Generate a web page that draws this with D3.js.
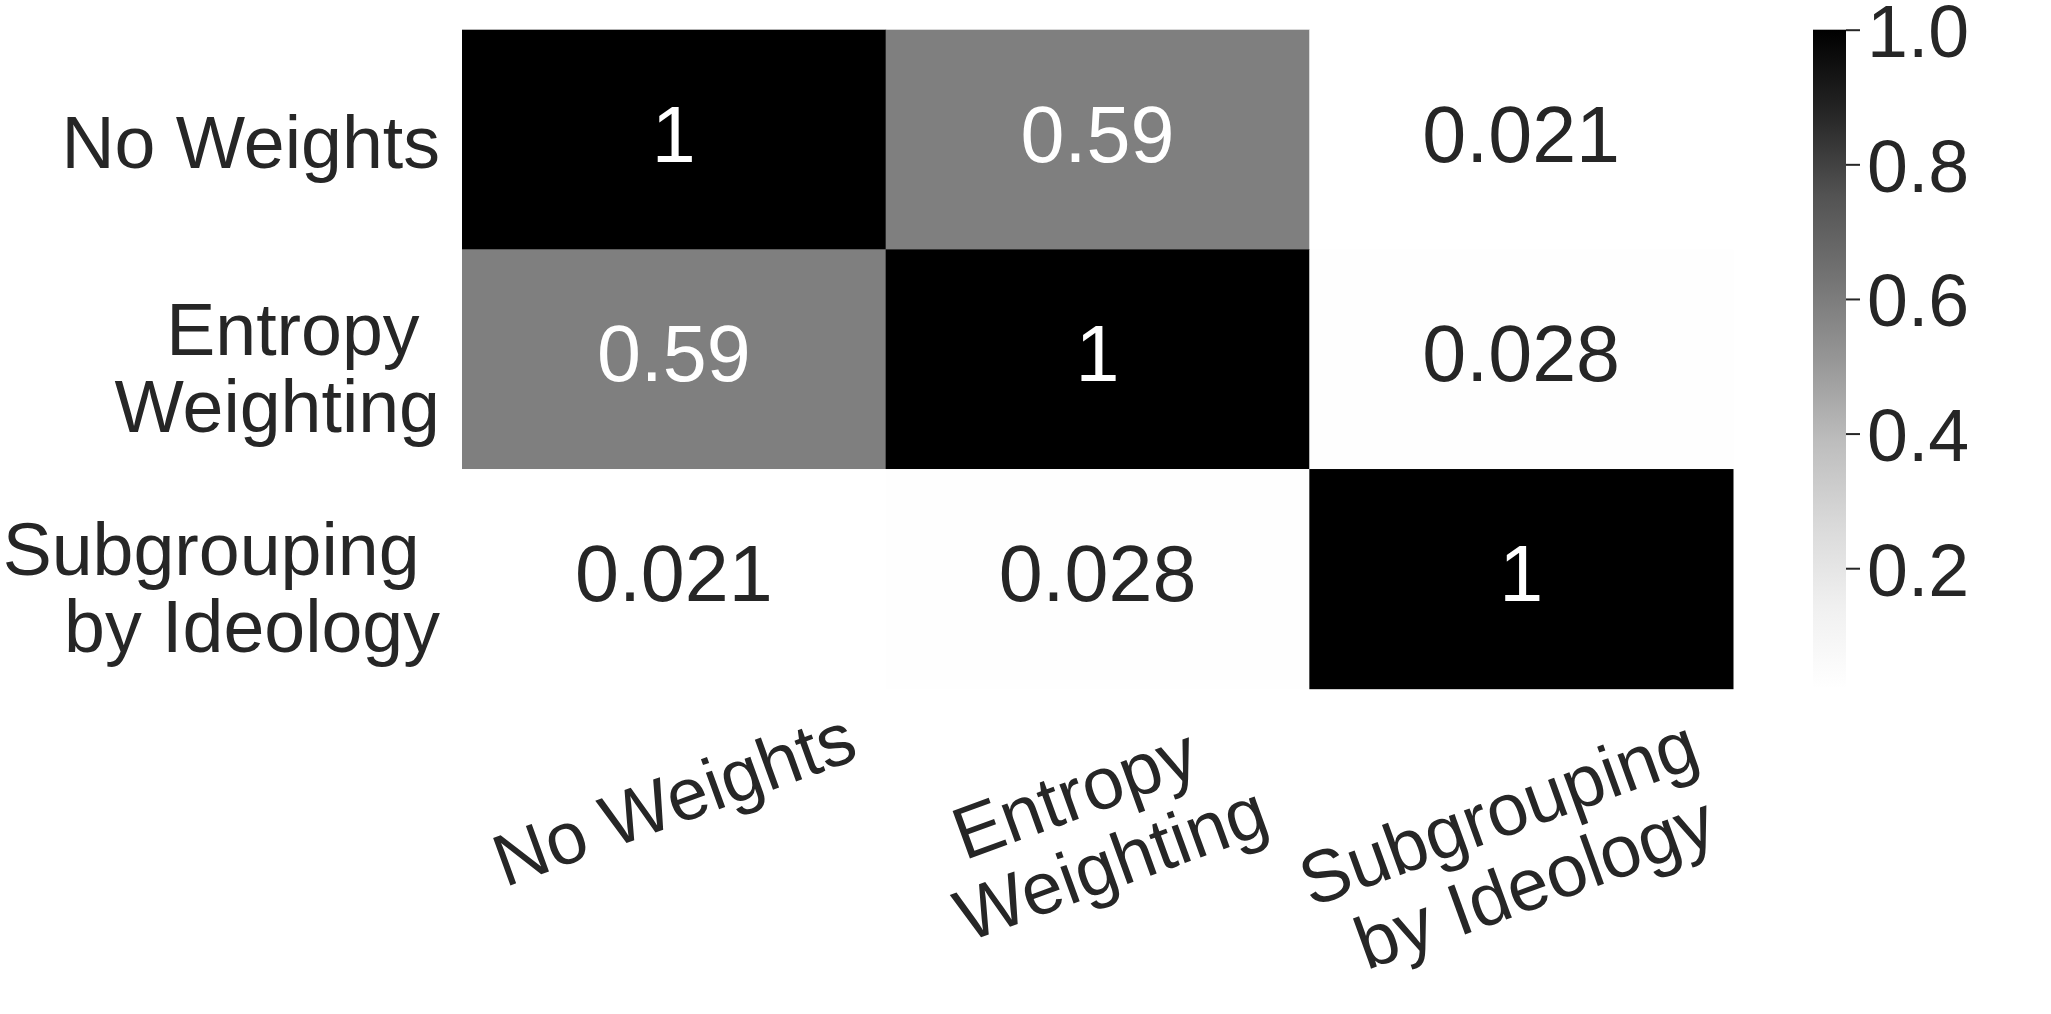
<!DOCTYPE html>
<html>
<head>
<meta charset="utf-8">
<script src="https://cdn.jsdelivr.net/npm/d3@7"></script>
<style>
	body { margin: 0; background: #ffffff; }
	svg text { font-family: "Liberation Sans", Arial, sans-serif; fill: #262626; white-space: pre; }
</style>
</head>
<body>
<svg id="vis" width="2051" height="1014"></svg>
<script>
// labels (trailing spaces are in the original labels)
const labels = ["No Weights", "Entropy \nWeighting", "Subgrouping \nby Ideology"];

// correlation matrix, row by row
const row0 = [1, 0.59, 0.021];
const row1 = [0.59, 1, 0.028];
const row2 = [0.021, 0.028, 1];
const matrix = [row0, row1, row2];

// colorbar ticks
const cbTicks = [0.2, 0.4, 0.6, 0.8, 1.0];

const svg = d3.select("svg#vis");

const plot = { left: 462, right: 1733, top: 29.7, bottom: 688.7 };
const cbar = { left: 1813, width: 33 };

const tickFont = 73.5;
const annotFont = 79;

// scales
const x = d3.scaleBand()
	.domain(d3.range(labels.length))
	.range([plot.left, plot.right]);

const y = d3.scaleBand()
	.domain(d3.range(labels.length))
	.range([plot.top, plot.bottom]);

const flat = matrix.flat();
const vmin = d3.min(flat);
const vmax = d3.max(flat);

// matplotlib "Greys" is a linear segmented map over these 9 colours
const greys = d3.schemeGreys[9];
const color = d3.scaleLinear()
	.domain(greys.map((c, i) => vmin + i / (greys.length - 1) * (vmax - vmin)))
	.range(greys);

const fmt = d3.format(".2~g");

// cells
const cells = [];
matrix.forEach((row, i) => row.forEach((v, j) => cells.push({ i: i, j: j, v: v })));

svg.append("g").selectAll("rect")
	.data(cells)
	.enter()
	.append("rect")
	.attr("x", d => x(d.j))
	.attr("y", d => y(d.i))
	.attr("width", x.bandwidth() + 0.5)
	.attr("height", y.bandwidth() + 0.5)
	.attr("fill", d => color(d.v));

// annotations
svg.append("g").selectAll("text")
	.data(cells)
	.enter()
	.append("text")
	.attr("x", d => x(d.j) + x.bandwidth() / 2)
	.attr("y", d => y(d.i) + y.bandwidth() / 2 + 22)
	.attr("text-anchor", "middle")
	.style("font-size", annotFont + "px")
	.style("fill", d => d3.hsl(color(d.v)).l < 0.6 ? "#ffffff" : "#262626")
	.text(d => fmt(d.v));

// y tick labels
const lineGap = 77;
const ylab = svg.append("g").selectAll("text")
	.data(labels)
	.enter()
	.append("text")
	.attr("xml:space", "preserve")
	.attr("text-anchor", "end")
	.style("font-size", tickFont + "px");

ylab.each(function(d, i) {
	const lines = d.split("\n");
	const base = y(i) + y.bandwidth() / 2 + 28.3 - (lines.length - 1) * 32.5;
	d3.select(this).selectAll("tspan")
		.data(lines)
		.enter()
		.append("tspan")
		.attr("x", 440)
		.attr("y", (l, k) => base + k * lineGap)
		.text(l => l);
});

// x tick labels, rotated 20 degrees, rotated box centred on the column
const angle = -20;
const rad = angle * Math.PI / 180;
const xlabTop = 695;

labels.forEach(function(d, j) {
	const g = svg.append("g");
	const t = g.append("text")
		.attr("xml:space", "preserve")
		.attr("text-anchor", "middle")
		.style("font-size", tickFont + "px");

	t.selectAll("tspan")
		.data(d.split("\n"))
		.enter()
		.append("tspan")
		.attr("x", 0)
		.attr("y", (l, k) => k * 78)
		.text(l => l);

	const bb = t.node().getBBox();
	const corners = [
		[bb.x, bb.y], [bb.x + bb.width, bb.y],
		[bb.x, bb.y + bb.height], [bb.x + bb.width, bb.y + bb.height]
	].map(p => [p[0] * Math.cos(rad) - p[1] * Math.sin(rad), p[0] * Math.sin(rad) + p[1] * Math.cos(rad)]);

	const minX = d3.min(corners, c => c[0]);
	const maxX = d3.max(corners, c => c[0]);
	const minY = d3.min(corners, c => c[1]);

	const tx = x(j) + x.bandwidth() / 2 - (minX + maxX) / 2;
	const ty = xlabTop - minY;
	g.attr("transform", translate(tx, ty) + " rotate(" + angle + ")");
});

// colorbar
const cbScale = d3.scaleLinear()
	.domain([vmin, vmax])
	.range([plot.bottom, plot.top]);

const grad = svg.append("defs").append("linearGradient")
	.attr("id", "cbgrad")
	.attr("x1", 0).attr("y1", 1)
	.attr("x2", 0).attr("y2", 0);

grad.selectAll("stop")
	.data(color.domain())
	.enter()
	.append("stop")
	.attr("offset", d => (d - vmin) / (vmax - vmin))
	.attr("stop-color", d => color(d));

svg.append("rect")
	.attr("x", cbar.left)
	.attr("y", plot.top)
	.attr("width", cbar.width)
	.attr("height", plot.bottom - plot.top)
	.attr("fill", "url(#cbgrad)");

const cbAxis = svg.append("g")
	.attr("transform", translate(cbar.left + cbar.width, 0))
	.call(d3.axisRight(cbScale)
		.tickValues(cbTicks)
		.tickFormat(d3.format(".1f"))
		.tickSize(14)
		.tickPadding(7));

cbAxis.select(".domain").remove();
cbAxis.selectAll(".tick line")
	.attr("stroke", "#262626")
	.attr("stroke-width", 2);
cbAxis.selectAll(".tick text")
	.attr("dy", "0.366em")
	.attr("fill", "#262626")
	.style("font-size", tickFont + "px")
	.style("font-family", "'Liberation Sans', Arial, sans-serif");

function translate(x, y) {
	return "translate(" + x + "," + y + ")";
}
</script>
</body>
</html>
